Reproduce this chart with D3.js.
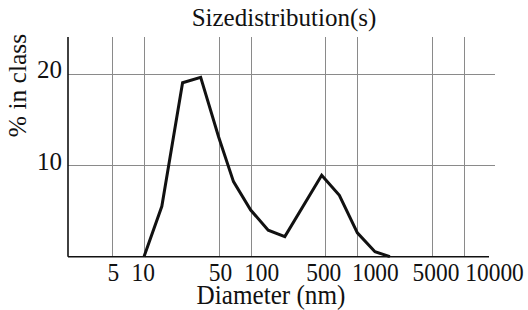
<!DOCTYPE html>
<html>
<head>
<meta charset="utf-8">
<script src="https://cdn.jsdelivr.net/npm/d3@7"></script>
<style>
html,body{margin:0;padding:0;background:#fff;}
svg{display:block;}
text{font-family:"Liberation Serif","Times New Roman",serif;fill:#111;}
</style>
</head>
<body>
<svg id="chart" width="528" height="310"></svg>
<script>
// Data
const diameters = [10, 14.7, 23, 34, 50, 69, 100, 146, 209, 463, 678, 1000, 1462, 2018];
const percents  = [0, 5.5, 19.0, 19.6, 13.1, 8.2, 5.1, 2.9, 2.2, 8.9, 6.7, 2.6, 0.55, 0];
const xTicks = [5, 10, 50, 100, 500, 1000, 5000, 10000];
const xTickLabels = ["5", "10", "50", "100", "500", "1000", "5000", "10000"];
const yTicks = [10, 20];
const yTickLabels = ["10", "20"];
const title = "Sizedistribution(s)";
const xTitle = "Diameter (nm)";
const yTitle = "% in class";

(function () {
const svg = d3.select("#chart");
const pLeft = 68, pRight = 489, pTop = 37, pBottom = 256.7;

const x = d3.scaleLog().domain([1.94, 17130]).range([pLeft, pRight]);
const y = d3.scaleLinear().domain([0, 24]).range([pBottom, pTop]);

// label nudges so labels sit as in the reference
const xLabelDx = {5: 1.5, 10: -0.7, 50: 2, 100: 11, 500: -1.5, 1000: 18, 5000: 4, 10000: 30.5};

// grid
const grid = svg.append("g").attr("stroke", "#8a8a8a").attr("stroke-width", 1);
grid.selectAll("line.v").data(xTicks).join("line")
  .attr("class", "v")
  .attr("x1", d => Math.round(x(d)) + 0.5).attr("x2", d => Math.round(x(d)) + 0.5)
  .attr("y1", pTop).attr("y2", pBottom);
grid.selectAll("line.h").data(yTicks).join("line")
  .attr("class", "h")
  .attr("x1", pLeft).attr("x2", 495)
  .attr("y1", d => Math.round(y(d)) + 0.5).attr("y2", d => Math.round(y(d)) + 0.5);

// axes lines
svg.append("line").attr("x1", pLeft).attr("x2", pLeft).attr("y1", pTop).attr("y2", pBottom)
  .attr("stroke", "#111").attr("stroke-width", 1.6);
svg.append("line").attr("x1", pLeft).attr("x2", pRight).attr("y1", pBottom).attr("y2", pBottom)
  .attr("stroke", "#111").attr("stroke-width", 1.6);

// tick labels (slightly condensed, as in the reference)
svg.selectAll("text.xt").data(xTicks).join("text")
  .attr("class", "xt")
  .attr("transform", d => `translate(${x(d) + xLabelDx[d]},281) scale(0.9,1)`)
  .attr("text-anchor", "middle")
  .attr("font-size", 26)
  .text((d, i) => xTickLabels[i]);

svg.selectAll("text.yt").data(yTicks).join("text")
  .attr("class", "yt")
  .attr("x", 62)
  .attr("y", d => y(d) + 4.5)
  .attr("text-anchor", "end")
  .attr("font-size", 25)
  .text((d, i) => yTickLabels[i]);

// line
const pts = diameters.map((d, i) => [d, percents[i]]);
svg.append("path").datum(pts)
  .attr("fill", "none").attr("stroke", "#111").attr("stroke-width", 3)
  .attr("stroke-linejoin", "miter")
  .attr("d", d3.line().x(d => x(d[0])).y(d => y(d[1])));

// titles
svg.append("text").attr("x", 284).attr("y", 26).attr("text-anchor", "middle")
  .attr("font-size", 25).text(title);
svg.append("text").attr("transform", "translate(271,304) scale(0.95,1)").attr("text-anchor", "middle")
  .attr("font-size", 26.5).text(xTitle);
svg.append("text").attr("transform", "translate(26,85.5) rotate(-90)")
  .attr("text-anchor", "middle").attr("font-size", 25.5).text(yTitle);
})();
</script>
</body>
</html>
